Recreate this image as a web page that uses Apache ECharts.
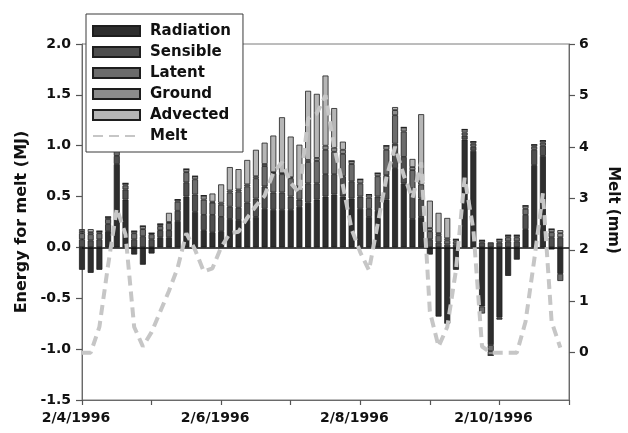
<!DOCTYPE html>
<html>
<head>
<meta charset="utf-8">
<script src="https://cdn.jsdelivr.net/npm/echarts@6/dist/echarts.min.js"></script>
<style>
html,body{margin:0;padding:0;background:#fff;}
#c{width:628px;height:433px;}
</style>
</head>
<body>
<div id="c"></div>
<script>
// 3-hourly steps, 2/4/1996 00:00 to 2/11/1996 00:00
var hours = [];
for (var h = 0; h <= 168; h += 3) hours.push(String(h));
var dateLabels = ['2/4/1996', '2/6/1996', '2/8/1996', '2/10/1996'];

var radiation = [-0.22,-0.25,-0.22,0.16,0.82,0.47,-0.07,-0.17,-0.06,0.10,0.10,0.26,0.50,0.35,0.17,0.15,0.16,0.28,0.27,0.27,0.30,0.38,0.37,0.37,0.37,0.40,0.44,0.47,0.50,0.52,0.50,0.48,0.38,0.30,0.36,0.47,0.78,0.63,0.28,0.30,-0.07,-0.68,-0.75,-0.22,1.06,0.95,-0.58,-0.96,-0.69,-0.28,-0.12,0.18,0.81,0.90,-0.02,-0.26];
var sensible  = [0.08,0.07,0.08,0.07,0.08,0.10,0.08,0.11,0.08,0.07,0.07,0.10,0.14,0.17,0.15,0.17,0.14,0.12,0.12,0.17,0.18,0.22,0.17,0.17,0.13,0.07,0.19,0.16,0.22,0.20,0.20,0.17,0.12,0.08,0.14,0.24,0.24,0.26,0.30,0.18,0.08,0.05,0.03,0.03,0.04,0.04,0.05,0.05,0.05,0.06,0.06,0.14,0.15,0.10,0.10,0.10];
var latent    = [0.06,0.06,0.06,0.05,0.05,0.04,0.06,0.07,0.05,0.04,0.07,0.09,0.10,0.15,0.15,0.12,0.12,0.14,0.16,0.16,0.20,0.20,0.19,0.18,0.18,0.12,0.21,0.22,0.24,0.22,0.22,0.17,0.13,0.11,0.20,0.25,0.28,0.25,0.18,0.14,0.08,0.07,0.04,0.03,0.03,0.03,-0.07,-0.06,-0.02,0.04,0.04,0.06,0.03,0.03,0.05,-0.07];
var ground    = [0.02,0.02,0.02,0.02,0.02,0.02,0.02,0.03,0.01,0.02,0.01,0.02,0.03,0.03,0.04,0.01,0.02,0.02,0.02,0.02,0.02,0.02,0.01,0.01,0.01,0.01,0.02,0.03,0.04,0.04,0.04,0.03,0.04,0.03,0.03,0.04,0.05,0.04,0.03,0.03,0.03,0.02,0.02,0.02,0.03,0.02,0.02,-0.04,0.03,0.02,0.02,0.03,0.02,0.02,0.03,0.04];
var advected  = [0.02,0.03,0,0,0.03,0,0,0,0,0,0.09,0,0,0,0,0.08,0.18,0.23,0.20,0.24,0.26,0.21,0.36,0.55,0.40,0.41,0.68,0.63,0.69,0.39,0.08,0,0,0,0,0,0.03,0,0.08,0.66,0.27,0.20,0.20,0,0,0,0,0,0,0,0,0,0,0,0,0.03];
var melt      = [0,0,0.5,1.7,2.8,2.3,0.5,0.12,0.4,0.8,1.2,1.65,2.32,2.0,1.58,1.64,2.05,2.32,2.35,2.62,2.85,3.05,3.5,3.7,3.3,3.1,4.55,4.65,5.0,4.0,3.25,2.4,1.95,1.6,2.5,3.4,4.0,3.45,3.0,3.7,0.8,0.12,0.5,1.6,3.4,2.4,0.12,0,0,0,0,0.6,1.8,3.1,0.6,0.1];
var meltTicks = [0,1,2,3,4,5,6];

var FONT = 'DejaVu Sans';
var chart = echarts.init(document.getElementById('c'), null, {renderer: 'canvas'});

function barSeries(name, data, color) {
  return {
    name: name, type: 'bar', stack: 'e', data: data, barWidth: 6, clip: false,
    itemStyle: {color: color, borderColor: '#1e1e1e', borderWidth: 0.8},
    emphasis: {disabled: true}
  };
}
var s0 = barSeries('Radiation', radiation, '#2e2e2e');
s0.markLine = {
  silent: true, symbol: 'none', label: {show: false}, animation: false,
  lineStyle: {color: '#111', width: 1.5, type: 'solid'},
  data: [{yAxis: 0}]
};

chart.setOption({
  animation: false,
  textStyle: {fontFamily: FONT},
  grid: {left: 82, right: 53, top: 44, bottom: 33, show: true, borderColor: '#7a7a7a', borderWidth: 1},
  legend: {
    left: 86, top: 14, orient: 'vertical',
    backgroundColor: '#fff', borderColor: '#3a3a3a', borderWidth: 1,
    padding: [8, 12, 7, 6], itemWidth: 47, itemHeight: 10, itemGap: 3,
    textStyle: {fontFamily: FONT, fontWeight: 'bold', fontSize: 15, color: '#111', lineHeight: 18, padding: [0, 0, 0, 5]},
    data: [
      {name: 'Radiation', icon: 'rect'},
      {name: 'Sensible', icon: 'rect'},
      {name: 'Latent', icon: 'rect'},
      {name: 'Ground', icon: 'rect'},
      {name: 'Advected', icon: 'rect'},
      {name: 'Melt', itemStyle: {color: 'rgba(0,0,0,0)', borderWidth: 0, opacity: 0}}
    ],
    selectedMode: false
  },
  xAxis: {
    type: 'category', data: hours, boundaryGap: false,
    axisLine: {onZero: false, lineStyle: {color: '#6a6a6a', width: 1}},
    axisTick: {show: true, interval: function (i) { return i % 8 === 0; }, length: 5, lineStyle: {color: '#555', width: 1.2}},
    axisLabel: {
      interval: function (i) { return i % 16 === 0; }, margin: 11, color: '#111', fontFamily: FONT, fontWeight: 'bold', fontSize: 14,
      padding: [0, 12, 0, 0],
      formatter: function (v, idx) { return dateLabels[Math.round(idx / 16)] || ''; }
    },
    splitLine: {show: false}
  },
  yAxis: [{
    type: 'value', min: -1.5, max: 2, interval: 0.5,
    name: 'Energy for melt (MJ)', nameLocation: 'middle', nameGap: 52,
    nameTextStyle: {fontFamily: FONT, fontWeight: 'bold', fontSize: 16, color: '#111'},
    axisLine: {show: true, lineStyle: {color: '#6a6a6a'}},
    axisTick: {show: true, length: 6, lineStyle: {color: '#555', width: 1.2}},
    axisLabel: {margin: 11, color: '#111', fontFamily: FONT, fontWeight: 'bold', fontSize: 14,
      formatter: function (v) { return v.toFixed(1); }},
    splitLine: {show: false}
  }, {
    type: 'value', min: -0.92, max: 6, position: 'right',
    name: 'Melt (mm)', nameLocation: 'middle', nameGap: 36, nameRotate: -90,
    nameTextStyle: {fontFamily: FONT, fontWeight: 'bold', fontSize: 15, color: '#111', padding: [0, 24, 0, 0]},
    axisLine: {show: true, lineStyle: {color: '#6a6a6a'}},
    axisTick: {show: true, length: 6, customValues: meltTicks, lineStyle: {color: '#555', width: 1.2}},
    axisLabel: {margin: 10, color: '#111', fontFamily: FONT, fontWeight: 'bold', fontSize: 14, customValues: meltTicks},
    splitLine: {show: false}
  }],
  series: [
    s0,
    barSeries('Sensible', sensible, '#4e4e4e'),
    barSeries('Latent', latent, '#6c6c6c'),
    barSeries('Ground', ground, '#8c8c8c'),
    barSeries('Advected', advected, '#b6b6b6'),
    {
      name: 'Melt', type: 'line', yAxisIndex: 1, data: melt, symbol: 'none', showSymbol: false,
      z: 5, lineStyle: {color: '#c6c6c6', width: 4, type: [10, 6]},
      itemStyle: {color: '#c6c6c6'}, emphasis: {disabled: true}
    }
  ]
});
</script>
</body>
</html>
